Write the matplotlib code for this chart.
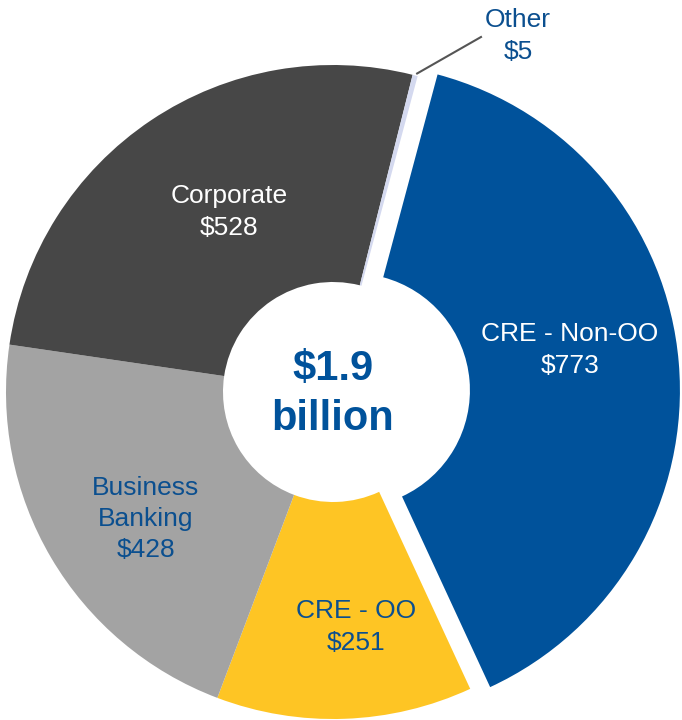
import numpy as np
import matplotlib.pyplot as plt

plt.rcParams['font.family'] = ['Liberation Sans', 'DejaVu Sans']

# commercial loan balances, $ millions
segments = ['CRE - Non-OO', 'CRE - OO', 'Business\nBanking', 'Corporate', 'Other']
balances = [773, 251, 428, 528, 5]
total_label = '$1.9\nbillion'

colors = ['#00529b', '#fec524', '#a3a3a3', '#474747', '#d4d9ef']
text_colors = ['white', '#0b4f8f', '#0b4f8f', 'white', '#0b4f8f']

W, H = 682, 720
# label centres in pixel space (x from left, y from top)
label_pos = [(570, 350), (356, 627), (146, 519), (229, 212), (518, 36)]

R_OUT, R_IN, R_IN_EXPL = 327, 110, 117
cx, cy = 333, H - 392

fig = plt.figure(figsize=(W / 100, H / 100), dpi=100)
ax = fig.add_axes([0, 0, 1, 1])

wedges, _ = ax.pie(balances, colors=colors, startangle=75, counterclock=False,
                   radius=R_OUT, center=(cx, cy), explode=[20, 0, 0, 0, 0],
                   wedgeprops=dict(width=R_OUT - R_IN, linewidth=0))
wedges[0].set_width(R_OUT - R_IN_EXPL)

for name, val, (px, py), tc in zip(segments, balances, label_pos, text_colors):
    ax.text(px, H - py, f'{name}\n${val}', ha='center', va='center',
            fontsize=19, color=tc, linespacing=1.37, multialignment='center')

# leader line for the thin "Other" slice
other = wedges[-1]
tm = np.deg2rad((other.theta1 + other.theta2) / 2)
x0 = other.center[0] + R_OUT * np.cos(tm)
y0 = other.center[1] + R_OUT * np.sin(tm)
ax.plot([x0 + 2, 481], [y0 + 2, H - 37], color='#555555', lw=1.5)

ax.text(cx, H - 394, total_label, ha='center', va='center', fontsize=30,
        fontweight='bold', color='#00529b', linespacing=1.33)

ax.set_xlim(0, W)
ax.set_ylim(0, H)
ax.axis('off')

fig.savefig('out.png', dpi=100)
